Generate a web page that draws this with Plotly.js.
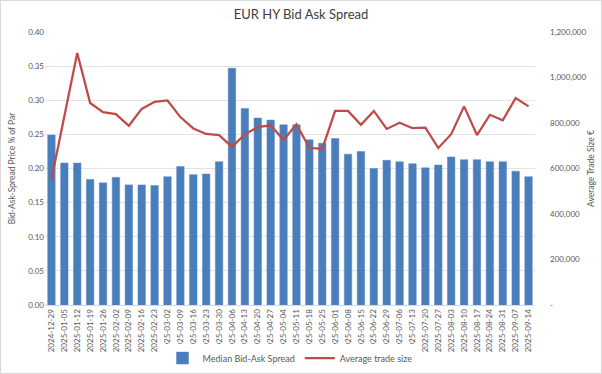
<!DOCTYPE html>
<html>
<head>
<meta charset="utf-8">
<script src="https://cdn.plot.ly/plotly-3.0.1.min.js"></script>
<style>
html,body{margin:0;padding:0;background:#fff;}
#chart{width:602px;height:374px;box-sizing:border-box;border:1px solid #d9d9d9;}
</style>
</head>
<body>
<div id="chart"></div>
<script>
const weeks = ["2024-12-29","2025-01-05","2025-01-12","2025-01-19","2025-01-26","2025-02-02","2025-02-09","2025-02-16","2025-02-23","2025-03-02","2025-03-09","2025-03-16","2025-03-23","2025-03-30","2025-04-06","2025-04-13","2025-04-20","2025-04-27","2025-05-04","2025-05-11","2025-05-18","2025-05-25","2025-06-01","2025-06-08","2025-06-15","2025-06-22","2025-06-29","2025-07-06","2025-07-13","2025-07-20","2025-07-27","2025-08-03","2025-08-10","2025-08-17","2025-08-24","2025-08-31","2025-09-07","2025-09-14"];
const medianSpread = [0.249,0.208,0.208,0.184,0.179,0.187,0.176,0.176,0.175,0.188,0.203,0.191,0.192,0.210,0.347,0.288,0.274,0.271,0.264,0.264,0.242,0.237,0.244,0.221,0.225,0.200,0.212,0.210,0.207,0.201,0.205,0.217,0.213,0.213,0.210,0.210,0.196,0.188];
const avgTradeSize = [552000,825000,1108000,888000,848000,839000,788000,862000,893000,899000,826000,776000,752000,747000,695000,750000,782000,790000,725000,794000,691000,686000,853000,853000,792000,853000,774000,801000,777000,780000,690000,751000,873000,747000,836000,812000,910000,873000];
const rightTickVals = [0,200000,400000,600000,800000,1000000,1200000];
const rightTickText = ["-","200,000","400,000","600,000","800,000","1,000,000","1,200,000"];
const leftTickVals = [0,0.05,0.10,0.15,0.20,0.25,0.30,0.35,0.40];

const fontFam = "Lato, 'Open Sans', sans-serif";
const grey = "#595959";

const data = [
  {type:"bar", x:weeks, y:medianSpread, name:"Median Bid-Ask Spread",
   marker:{color:"#4a7ebb", line:{color:"#5b8bc9", width:0.5}}, yaxis:"y"},
  {type:"scatter", mode:"lines", x:weeks, y:avgTradeSize, name:"Average trade size",
   line:{color:"#be4b48", width:2.25}, yaxis:"y2"}
];

const layout = {
  width:600, height:372,
  margin:{l:44, r:66, t:31, b:68},
  paper_bgcolor:"#fff", plot_bgcolor:"#fff",
  font:{family:fontFam, color:grey, size:9},
  title:{text:"EUR HY Bid Ask Spread", font:{family:fontFam, size:13, color:"#404040"}, x:0.5, xanchor:"center", y:0.965, yanchor:"middle"},
  bargap:0.42,
  showlegend:true,
  legend:{orientation:"h", x:0.5, xanchor:"center", xref:"paper", yref:"container", y:0.04, yanchor:"middle", font:{size:9, color:grey}, traceorder:"normal"},
  xaxis:{type:"category", tickangle:-90, tickfont:{size:8, color:grey}, showgrid:false,
         showline:true, linecolor:"#d9d9d9", ticks:"", automargin:false},
  yaxis:{range:[0,0.40], tickvals:leftTickVals, tickformat:".2f", tickfont:{size:8, color:grey},
         gridcolor:"#e3e3e3", gridwidth:1, zeroline:false, showline:false, ticks:"",
         title:{text:"Bid-Ask-Spread Price % of Par", font:{size:8.5, color:grey}, standoff:11}, automargin:false},
  yaxis2:{overlaying:"y", side:"right", range:[0,1200000], tickvals:rightTickVals, ticktext:rightTickText,
          tickfont:{size:8, color:grey}, showgrid:false, zeroline:false, showline:false, ticks:"",
          ticklabelstandoff:14,
          title:{text:"Average Trade Size €", font:{size:8.5, color:grey}, standoff:2}, automargin:false}
};

Plotly.newPlot("chart", data, layout, {displayModeBar:false, staticPlot:true});
</script>
</body>
</html>
